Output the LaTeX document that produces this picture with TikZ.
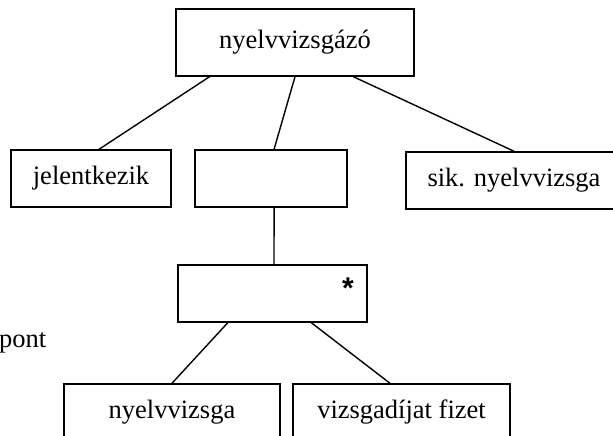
\documentclass[tikz,border=0pt]{standalone}
\usepackage{fontspec}
\setmainfont{Liberation Serif}
\newfontfamily\starfont{Liberation Sans}
\usetikzlibrary{calc}

\begin{document}
\begin{tikzpicture}[x=1pt, y=-1pt,
    every node/.style={font=\fontsize{26.5}{30}\selectfont},
    jspbox/.style={draw, line width=1.5pt, inner sep=0pt, minimum height=57pt},
    conn/.style={line width=1.4pt}]
    \clip (0,0) rectangle (613,436);
    \useasboundingbox (0,0) rectangle (613,436);

    % root
    \node[jspbox, minimum width=238pt, minimum height=67pt] (vizsgazo) at (295,42.5) {nyelvvizsgázó};

    % second level
    \node[jspbox, minimum width=160pt] (jelent) at (91,178.5) {jelentkezik};
    \node[jspbox, minimum width=152pt] (torzs) at (271,178.5) {};
    \node[jspbox, minimum width=216pt] (sikeres) at (514,180.5) {sik. nyelvvizsga};

    % iteration
    \node[jspbox, minimum width=189pt] (iter) at (272.5,293.5) {};
    \node[font=\starfont\bfseries\fontsize{30}{30}\selectfont, inner sep=0pt, anchor=base] (csillag) at (348,298) {*};

    % third level
    \node[jspbox, minimum width=216pt] (vizsga) at (172,412.5) {nyelvvizsga};
    \node[jspbox, minimum width=217pt] (dij) at (401.5,412.5) {vizsgadíjat fizet};

    \node[anchor=base west, inner sep=0pt] (pont) at (-1,347) {pont};

    \draw[conn] ($(vizsgazo.south west)!0.143!(vizsgazo.south east)$) -- ($(jelent.north west)!0.55!(jelent.north east)$);
    \draw[conn] (vizsgazo.south) -- ($(torzs.north west)!0.52!(torzs.north east)$);
    \draw[conn] ($(vizsgazo.south west)!0.744!(vizsgazo.south east)$) -- (sikeres.north);
    \draw[conn] ($(torzs.south west)!0.52!(torzs.south east)$) -- ($(iter.north west)!0.508!(iter.north east)$);
    \draw[conn] ($(iter.south west)!0.265!(iter.south east)$) -- (vizsga.north);
    \draw[conn] ($(iter.south west)!0.704!(iter.south east)$) -- ($(dij.north west)!0.447!(dij.north east)$);
\end{tikzpicture}
\end{document}
